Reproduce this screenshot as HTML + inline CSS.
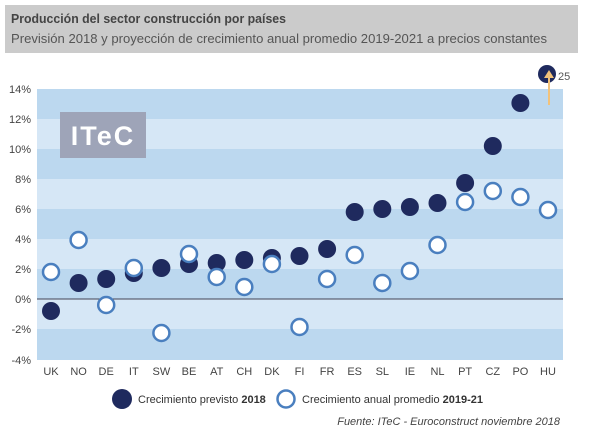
<!DOCTYPE html>
<html><head><meta charset="utf-8"><style>
body{margin:0;background:#fff;width:600px;height:438px;overflow:hidden;font-family:"Liberation Sans",sans-serif}
</style></head><body>
<svg width="600" height="438" xmlns="http://www.w3.org/2000/svg" font-family="Liberation Sans, sans-serif">
<rect x="5" y="5" width="573" height="48" fill="#cbcbcb"/>
<text x="11" y="23" font-size="12.5" font-weight="bold" fill="#444" textLength="275" lengthAdjust="spacingAndGlyphs">Producción del sector construcción por países</text>
<text x="11" y="43" font-size="13" fill="#555" textLength="536" lengthAdjust="spacingAndGlyphs">Previsión 2018 y proyección de crecimiento anual promedio 2019-2021 a precios constantes</text>
<g>
<rect x="37" y="89" width="526" height="30" fill="#bcd8ef"/>
<rect x="37" y="119" width="526" height="30" fill="#d6e7f6"/>
<rect x="37" y="149" width="526" height="30" fill="#bcd8ef"/>
<rect x="37" y="179" width="526" height="30" fill="#d6e7f6"/>
<rect x="37" y="209" width="526" height="30" fill="#bcd8ef"/>
<rect x="37" y="239" width="526" height="30" fill="#d6e7f6"/>
<rect x="37" y="269" width="526" height="30" fill="#bcd8ef"/>
<rect x="37" y="299" width="526" height="30" fill="#d6e7f6"/>
<rect x="37" y="329" width="526" height="31" fill="#bcd8ef"/>
<line x1="37" y1="299" x2="563" y2="299" stroke="#445" stroke-width="1"/>
</g>
<g font-size="11" fill="#444" text-anchor="end">
<text x="31" y="93">14%</text><text x="31" y="123">12%</text><text x="31" y="153">10%</text><text x="31" y="183">8%</text><text x="31" y="213">6%</text><text x="31" y="243">4%</text><text x="31" y="273">2%</text><text x="31" y="303">0%</text><text x="31" y="333">-2%</text><text x="31" y="364">-4%</text>
</g>
<rect x="60" y="112" width="86" height="46" fill="#9ea4b8"/>
<text x="103" y="145" font-size="27" font-weight="bold" fill="#fff" text-anchor="middle" letter-spacing="2">ITeC</text>
<g font-size="11" fill="#444" text-anchor="middle">
<text x="51" y="375">UK</text><text x="78.6" y="375">NO</text><text x="106.2" y="375">DE</text><text x="133.8" y="375">IT</text><text x="161.4" y="375">SW</text><text x="189" y="375">BE</text><text x="216.7" y="375">AT</text><text x="244.3" y="375">CH</text><text x="271.9" y="375">DK</text><text x="299.5" y="375">FI</text><text x="327.1" y="375">FR</text><text x="354.7" y="375">ES</text><text x="382.3" y="375">SL</text><text x="409.9" y="375">IE</text><text x="437.5" y="375">NL</text><text x="465.1" y="375">PT</text><text x="492.8" y="375">CZ</text><text x="520.4" y="375">PO</text><text x="548" y="375">HU</text>
</g>
<g fill="#1f2a5e">
<circle cx="51" cy="311" r="9"/><circle cx="78.6" cy="283" r="9"/><circle cx="106.2" cy="279" r="9"/><circle cx="133.8" cy="273" r="9"/><circle cx="161.4" cy="268" r="9"/><circle cx="189" cy="264" r="9"/><circle cx="216.7" cy="263" r="9"/><circle cx="244.3" cy="260" r="9"/><circle cx="271.9" cy="258" r="9"/><circle cx="299.5" cy="256" r="9"/><circle cx="327.1" cy="249" r="9"/><circle cx="354.7" cy="212" r="9"/><circle cx="382.3" cy="209" r="9"/><circle cx="409.9" cy="207" r="9"/><circle cx="437.5" cy="203" r="9"/><circle cx="465.1" cy="183" r="9"/><circle cx="492.8" cy="146" r="9"/><circle cx="520.4" cy="103" r="9"/><circle cx="547" cy="74" r="9"/>
</g>
<line x1="549" y1="72" x2="549" y2="105" stroke="#f2c27a" stroke-width="2"/>
<path d="M544 78 L549 70 L554 78 Z" fill="#f2c27a"/>
<text x="558" y="80" font-size="11" fill="#555">25</text>
<g fill="#fff" stroke="#4a7fbf" stroke-width="2.5">
<circle cx="51" cy="272" r="8"/><circle cx="78.6" cy="240" r="8"/><circle cx="106.2" cy="305" r="8"/><circle cx="133.8" cy="268" r="8"/><circle cx="161.4" cy="333" r="8"/><circle cx="189" cy="254" r="8"/><circle cx="216.7" cy="277" r="8"/><circle cx="244.3" cy="287" r="8"/><circle cx="271.9" cy="264" r="8"/><circle cx="299.5" cy="327" r="8"/><circle cx="327.1" cy="279" r="8"/><circle cx="354.7" cy="255" r="8"/><circle cx="382.3" cy="283" r="8"/><circle cx="409.9" cy="271" r="8"/><circle cx="437.5" cy="245" r="8"/><circle cx="465.1" cy="202" r="8"/><circle cx="492.8" cy="191" r="8"/><circle cx="520.4" cy="197" r="8"/><circle cx="548" cy="210" r="8"/>
</g>
<circle cx="122" cy="399" r="10" fill="#1f2a5e"/>
<text x="138" y="403" font-size="11" fill="#333">Crecimiento previsto <tspan font-weight="bold">2018</tspan></text>
<circle cx="286" cy="399" r="8.5" fill="#fff" stroke="#4a7fbf" stroke-width="2.5"/>
<text x="302" y="403" font-size="11" fill="#333">Crecimiento anual promedio <tspan font-weight="bold">2019-21</tspan></text>
<text x="560" y="425" font-size="11" font-style="italic" fill="#444" text-anchor="end">Fuente: ITeC - Euroconstruct noviembre 2018</text>
</svg>
</body></html>
